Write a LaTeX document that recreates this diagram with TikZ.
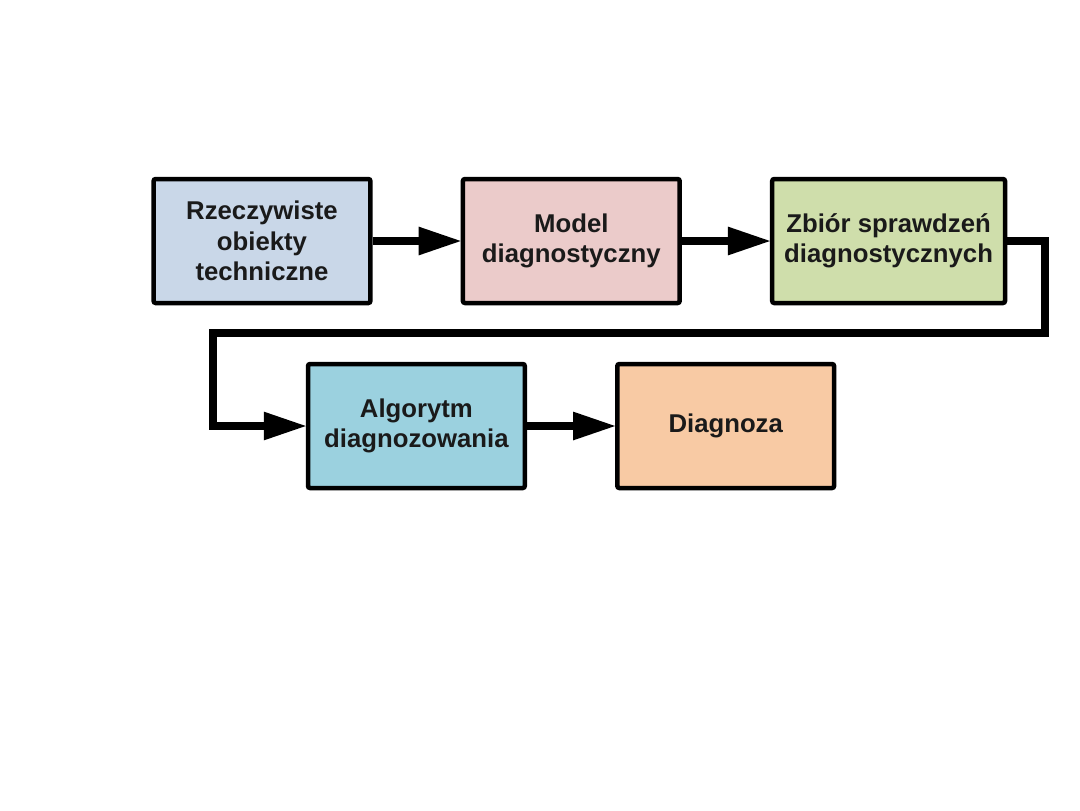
\documentclass[tikz,border=0pt]{standalone}
\usepackage{fontspec}
\setmainfont{Liberation Sans}
\usepackage{xcolor}
\usepackage{tikz}
\usetikzlibrary{positioning,arrows.meta}
\definecolor{steelgray}{HTML}{C9D7E8}
\definecolor{rose}{HTML}{EBCBCA}
\definecolor{sage}{HTML}{CFDEAB}
\definecolor{aqua}{HTML}{9BD1DF}
\definecolor{peach}{HTML}{F8CAA4}
\definecolor{ink}{HTML}{1A1A1A}

\begin{document}
\begin{tikzpicture}[
  box/.style={draw=black,line width=3.2pt,rounded corners=1.5pt,minimum width=5.42cm,minimum height=3.1cm,align=center,font=\fontsize{18.3}{21.5}\selectfont\bfseries,text=ink},
  arr/.style={-{Triangle[length=1.05cm,width=0.72cm,line width=0pt]},line width=6pt,color=black}
]
  \useasboundingbox (-6.55,6.025) rectangle (20.45,-14.225);
  \node[box,fill=steelgray] (obj) at (0,0) {Rzeczywiste\\obiekty\\techniczne};
  \node[box,right=2.2cm of obj,fill=rose] (model) {Model\\diagnostyczny};
  \node[box,right=2.2cm of model,fill=sage,minimum width=5.82cm] (spr) {Zbiór sprawdzeń\\diagnostycznych};
  \node[box,fill=aqua] (alg) at (3.86,-4.625) {Algorytm\\diagnozowania};
  \node[box,right=2.2cm of alg,fill=peach] (diag) {Diagnoza};
  \draw[arr] (obj)--(model); \draw[arr] (model)--(spr); \draw[arr] (alg)--(diag);
  \draw[arr] (spr.east) -- ++(0.95,0) -- ++(0,-2.3) -| ([xshift=-2.325cm]alg.west) -- (alg.west);
\end{tikzpicture}
\end{document}
